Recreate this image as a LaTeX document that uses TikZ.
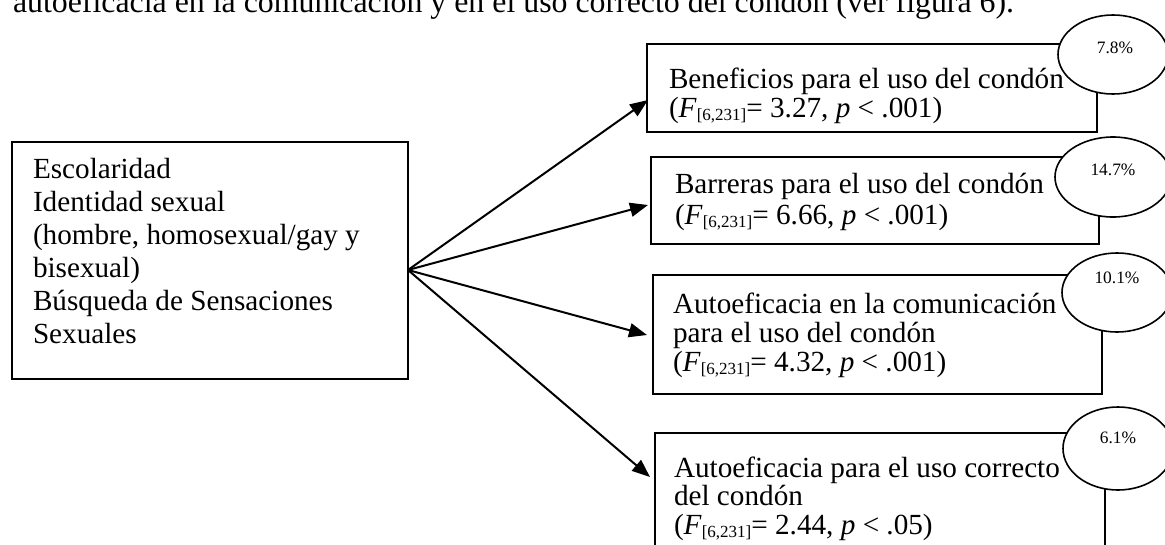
\documentclass[tikz,border=0pt]{standalone}
\usepackage{fontspec}
\setmainfont{Liberation Serif}
\usetikzlibrary{arrows.meta,shapes.geometric}
\newcommand{\Fsub}{\textit{F}\raisebox{-3pt}{\fontsize{17}{17}\selectfont [6,231]}}
\newcommand{\lines}[1]{\begin{tabular}[t]{@{}l@{}}#1\end{tabular}}
\begin{document}
\begin{tikzpicture}[x=1pt,y=-1pt,
  box/.style={draw, line width=1.6pt, inner sep=0pt, outer sep=0pt, anchor=north west},
  ell/.style={draw, ellipse, fill=white, line width=1.6pt, inner sep=0pt, outer sep=0pt},
  txt/.style={inner sep=0pt, outer sep=0pt, anchor=base west},
  pct/.style={inner sep=0pt, outer sep=0pt, anchor=base, font=\fontsize{17.4}{17.4}\selectfont},
  arr/.style={line width=2pt, -{Triangle[length=18pt,width=14pt]}}]
\useasboundingbox (0,0) rectangle (1165,544);
\clip (0,0) rectangle (1165,544);
\fill[white] (0,0) rectangle (1165,544);

% cut-off line of the running text (cropped at the top, as in the reference)
\node[txt, font=\fontsize{31.85}{38}\selectfont] (head) at (13,12)
  {autoeficacia en la comunicación y en el uso correcto del condón (ver figura 6).};

% left box
\node[box, minimum width=396pt, minimum height=237pt] (L) at (12,142) {};
\node[txt, font=\fontsize{29.2}{33}\selectfont] (Ltxt) at (33,178)
  {\lines{Escolaridad\\ Identidad sexual\\ (hombre, homosexual/gay y\\ bisexual)\\ Búsqueda de Sensaciones\\ Sexuales}};

% right boxes
\node[box, minimum width=450pt, minimum height=88pt] (b1) at (647,44) {};
\node[txt, font=\fontsize{29.2}{29}\selectfont] (b1txt) at (669,88)
  {\lines{Beneficios para el uso del condón\\ (\Fsub= 3.27, \textit{p} < .001)}};

\node[box, minimum width=448pt, minimum height=87pt] (b2) at (651,157) {};
\node[txt, font=\fontsize{29.2}{31.5}\selectfont] (b2txt) at (675,193)
  {\lines{Barreras para el uso del condón\\ (\Fsub= 6.66, \textit{p} < .001)}};

\node[box, minimum width=449pt, minimum height=119pt] (b3) at (653,275) {};
\node[txt, font=\fontsize{29.2}{29}\selectfont] (b3txt) at (673,313)
  {\lines{Autoeficacia en la comunicación\\ para el uso del condón\\ (\Fsub= 4.32, \textit{p} < .001)}};

\node[box, minimum width=450pt, minimum height=140pt] (b4) at (655,433) {};
\node[txt, font=\fontsize{29.2}{28.5}\selectfont] (b4txt) at (674,477)
  {\lines{Autoeficacia para el uso correcto\\ del condón\\ (\Fsub= 2.44, \textit{p} < .05)}};

% ellipses with percentages
\node[ell, minimum width=110pt, minimum height=79pt] (e1) at (1113,54.5) {};
\node[pct] (p1) at (1115,53) {7.8\%};
\node[ell, minimum width=116pt, minimum height=80pt] (e2) at (1113,177) {};
\node[pct] (p2) at (1113,175) {14.7\%};
\node[ell, minimum width=110pt, minimum height=79pt] (e3) at (1117,292.5) {};
\node[pct] (p3) at (1117,283) {10.1\%};
\node[ell, minimum width=110pt, minimum height=83pt] (e4) at (1118,448.5) {};
\node[pct] (p4) at (1118,443) {6.1\%};

% connectors
\coordinate (src) at (408,270);
\coordinate (t1) at (648,100);
\coordinate (t2) at (648,205);
\coordinate (t3) at (647,335);
\coordinate (t4) at (650,477);
\draw[arr] (src) -- (t1);
\draw[arr] (src) -- (t2);
\draw[arr] (src) -- (t3);
\draw[arr] (src) -- (t4);
\end{tikzpicture}
\end{document}
